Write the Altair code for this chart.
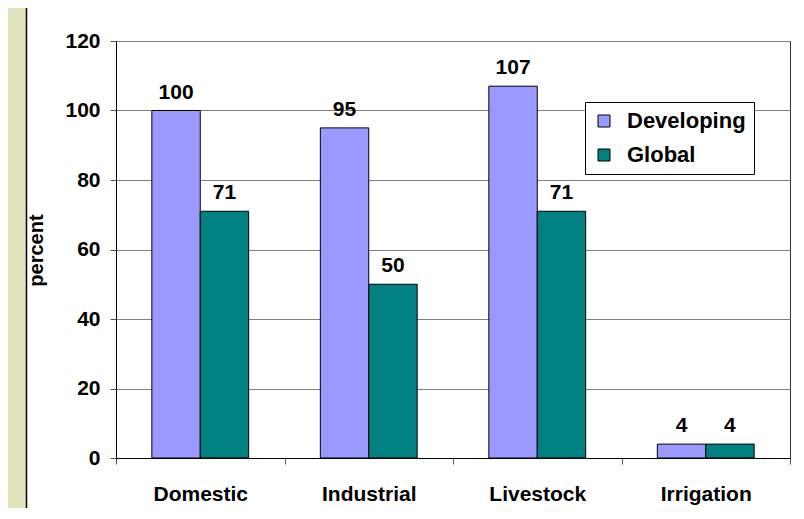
import altair as alt
import pandas as pd

categories = ["Domestic", "Industrial", "Livestock", "Irrigation"]
series = ["Developing", "Global"]
developing = [100, 95, 107, 4]
global_vals = [71, 50, 71, 4]
colors = ["#9999FF", "#008080"]
y_ticks = [0, 20, 40, 60, 80, 100, 120]

rows = []
for c, d, g in zip(categories, developing, global_vals):
    rows.append({"category": c, "series": "Developing", "value": d})
    rows.append({"category": c, "series": "Global", "value": g})
df = pd.DataFrame(rows)

FONT = "Liberation Sans"

x_enc = alt.X(
    "category:N", sort=categories, title=None,
    scale=alt.Scale(paddingInner=0, paddingOuter=0),
    axis=alt.Axis(
        tickBand="extent", tickSize=6, tickColor="#555555", domainColor="#000000",
        labelFont=FONT, labelFontSize=21, labelFontWeight="bold", labelColor="#000000",
        labelBaseline="alphabetic", labelPadding=36, labelAngle=0, grid=False,
    ),
)
xoff_enc = alt.XOffset(
    "series:N", sort=series,
    scale=alt.Scale(paddingOuter=0.74, paddingInner=0),
)
y_enc = alt.Y(
    "value:Q", title="percent",
    scale=alt.Scale(domain=[0, 120], nice=False),
    axis=alt.Axis(
        values=y_ticks, tickSize=6, tickColor="#555555", domainColor="#000000",
        labelFont=FONT, labelFontSize=21, labelFontWeight="bold", labelColor="#000000",
        labelPadding=10, grid=True, gridColor="#808080", gridWidth=1,
        titleFont=FONT, titleFontSize=20, titleFontWeight="bold", titleColor="#000000",
        titleX=-70, titleY=209,
    ),
)

base = alt.Chart(df)

bars = base.mark_bar(stroke="#000000", strokeWidth=1).encode(
    x=x_enc,
    xOffset=xoff_enc,
    y=y_enc,
    color=alt.Color(
        "series:N", sort=series, title=None,
        scale=alt.Scale(domain=series, range=colors),
        legend=alt.Legend(
            orient="none", legendX=469, legendY=61,
            padding=8, strokeColor="#000000", fillColor="#FFFFFF",
            symbolType="square", symbolSize=144, symbolStrokeColor="#000000",
            symbolStrokeWidth=1, symbolOpacity=1,
            labelFont=FONT, labelFontSize=22, labelFontWeight="bold", labelColor="#000000",
            labelOffset=12, rowPadding=12,
        ),
    ),
)

labels = base.mark_text(
    font=FONT, fontSize=21, fontWeight="bold", color="#000000",
    baseline="alphabetic", dy=-12,
).encode(
    x=alt.X("category:N", sort=categories),
    xOffset=alt.XOffset("series:N", sort=series),
    y="value:Q",
    text=alt.Text("value:Q", format=".0f"),
)

# decorative left frame strip (slide background)
strip = alt.Chart(pd.DataFrame({"k": [0]})).mark_rect(color="#E2E2BC").encode(
    x=alt.value(-108), x2=alt.value(-90), y=alt.value(-40), y2=alt.value(500)
)
frame = alt.Chart(pd.DataFrame({"k": [0]})).mark_rule(color="#000000", strokeWidth=1.5).encode(
    x=alt.value(-89.5), y=alt.value(-40), y2=alt.value(500)
)

chart = alt.layer(strip, frame, bars, labels).properties(
    width=674, height=417,
    autosize=alt.AutoSizeParams(type="none"),
    padding={"left": 108, "top": 33, "right": 6, "bottom": 50},
    background="#FFFFFF",
).configure_view(stroke="#333333", strokeWidth=1)

chart.save("out.html", embed_options={"renderer": "svg", "actions": False})
